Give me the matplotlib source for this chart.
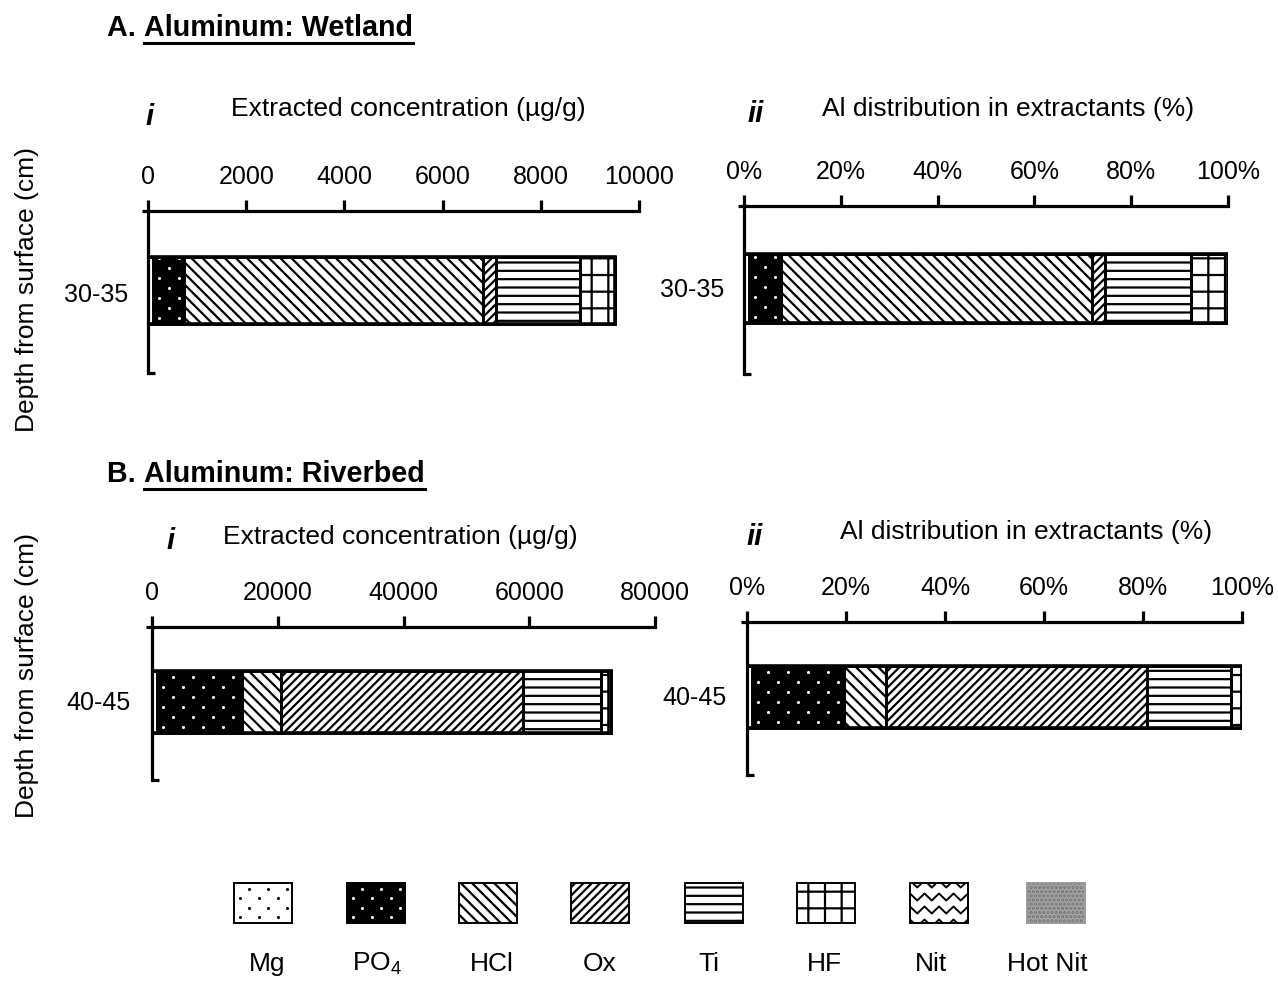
import numpy as np
import matplotlib
matplotlib.use("Agg")
import matplotlib.pyplot as plt
from matplotlib.patches import Rectangle
from matplotlib.lines import Line2D
from matplotlib.ticker import FixedLocator, FuncFormatter
from matplotlib.transforms import IdentityTransform

W, H = 1278, 981

plt.rcParams["font.family"] = ["Liberation Sans", "DejaVu Sans"]
plt.rcParams["mathtext.fontset"] = "custom"
plt.rcParams["mathtext.rm"] = "Liberation Sans"
plt.rcParams["mathtext.it"] = "Liberation Sans:italic"
plt.rcParams["hatch.linewidth"] = 1.6

# ---- data -------------------------------------------------------------
extractants = ["Mg", "PO4", "HCl", "Ox", "Ti", "HF", "Nit", "Hot Nit"]
legend_labels = ["Mg", "PO$_4$", "HCl", "Ox", "Ti", "HF", "Nit", "Hot Nit"]

wetland_depth = "30-35"
wetland_conc = [100, 630, 6100, 260, 1700, 720, 0, 0]          # µg/g

riverbed_depth = "40-45"
riverbed_conc = [800, 13500, 6200, 38500, 12400, 1600, 0, 0]   # µg/g

wetland_ticks = [0, 2000, 4000, 6000, 8000, 10000]
riverbed_ticks = [0, 20000, 40000, 60000, 80000]
percent_ticks = [0, 20, 40, 60, 80, 100]

# ---- fill styles per extractant ------------------------------------------
STYLE = {
    "Mg":      dict(face="white",   hatch=None,      hc="black", dots="black"),
    "PO4":     dict(face="black",   hatch=None,      hc="white", dots="white"),
    "HCl":     dict(face="white",   hatch="\\\\\\",  hc="black"),
    "Ox":      dict(face="white",   hatch="////",    hc="black"),
    "Ti":      dict(face="white",   hatch="--",      hc="black"),
    "HF":      dict(face="white",   hatch="+",       hc="black"),
    "Nit":     dict(face="white",   hatch=None,      hc="black", wave=True),
    "Hot Nit": dict(face="#a4a4a4", hatch="....",    hc="#747474"),
}

fig = plt.figure(figsize=(W / 100, H / 100), dpi=100)
fig.patch.set_facecolor("white")

FS = 19
TICK_FS = 18


def fx(x):
    return x / W


def fy(y):
    return 1 - y / H


def waves(container_ax, patch, period=14.0, amp=4.0, spacing=12.0, lw=1.4):
    """Zigzag hatching clipped to a patch, built in display pixels."""
    bb = patch.get_window_extent()
    ys = np.arange(bb.y0 - spacing, bb.y1 + spacing, spacing)
    xs = np.arange(bb.x0 - period, bb.x1 + period, period / 2)
    for y0 in ys:
        yy = y0 + amp * np.where(np.arange(len(xs)) % 2 == 0, 0.5, -0.5)
        ln = Line2D(xs, yy, transform=IdentityTransform(), color="black",
                    linewidth=lw, zorder=2.5)
        container_ax.add_artist(ln)
        ln.set_clip_path(patch)


def dots(container_ax, patch, color, dx=20.0, dy=10.0, ms=2.2):
    """Staggered dot stipple clipped to a patch, built in display pixels."""
    bb = patch.get_window_extent()
    xs_all, ys_all = [], []
    for i, y in enumerate(np.arange(bb.y0 + dy * 0.6, bb.y1, dy)):
        off = (i % 2) * dx / 2
        for x in np.arange(bb.x0 + dx * 0.3 + off - dx, bb.x1 + dx, dx):
            xs_all.append(x)
            ys_all.append(y)
    ln = Line2D(xs_all, ys_all, transform=IdentityTransform(), linestyle="none",
                marker="o", markersize=ms, markerfacecolor=color,
                markeredgecolor=color, markeredgewidth=0, zorder=2.5)
    container_ax.add_artist(ln)
    ln.set_clip_path(patch)


def decorate(container_ax, patch, st, dot_dx=20.0, dot_dy=10.0,
             wave_kw=None):
    if st.get("dots"):
        dots(container_ax, patch, st["dots"], dx=dot_dx, dy=dot_dy)
    if st.get("wave"):
        waves(container_ax, patch, **(wave_kw or {}))


def panel(rect_px, values, ticks, pct, depth, depth_px):
    l, r, t, b = rect_px
    ax = fig.add_axes([fx(l), fy(b), fx(r - l), (b - t) / H])
    ax.set_xlim(ticks[0], ticks[-1])
    ax.set_ylim(0, 1)

    vals = np.asarray(values, dtype=float)
    if pct:
        vals = vals / vals.sum() * 100.0

    yc, hh = 0.51, 0.41
    left = 0.0
    for name, v in zip(extractants, vals):
        if v <= 0:
            continue
        st = STYLE[name]
        bars = ax.barh(yc, v, left=left, height=hh, color=st["face"],
                       edgecolor=st["hc"], hatch=st["hatch"], linewidth=0,
                       zorder=2)
        decorate(ax, bars.patches[0], st)
        ax.barh(yc, v, left=left, height=hh, fill=False, edgecolor="black",
                linewidth=2.0, zorder=3)
        left += v
    ax.barh(yc, left, left=0, height=hh, fill=False, edgecolor="black",
            linewidth=2.6, zorder=4)

    for s in ("bottom", "right"):
        ax.spines[s].set_visible(False)
    for s in ("top", "left"):
        ax.spines[s].set_linewidth(2.3)
        ax.spines[s].set_zorder(5)

    ax.xaxis.tick_top()
    ax.xaxis.set_major_locator(FixedLocator(ticks))
    if pct:
        ax.xaxis.set_major_formatter(FuncFormatter(lambda v, p: f"{v:.0f}%"))
    else:
        ax.xaxis.set_major_formatter(FuncFormatter(lambda v, p: f"{v:.0f}"))
    ax.tick_params(axis="x", which="major", direction="out", length=8,
                   width=2.3, pad=8, labelsize=TICK_FS)

    ax.yaxis.set_major_locator(FixedLocator([1.0]))
    ax.yaxis.set_minor_locator(FixedLocator([0.0]))
    ax.tick_params(axis="y", which="major", direction="out", length=4,
                   width=2.3, labelleft=False)
    ax.tick_params(axis="y", which="minor", direction="in", length=5,
                   width=2.3, labelleft=False)
    ax.patch.set_alpha(0)

    fig.text(fx(depth_px[0]), fy(depth_px[1]), depth, ha="right",
             va="center", fontsize=TICK_FS)
    return ax


# ---- A: wetland ----------------------------------------------------------
panel((148, 639, 211, 373), wetland_conc, wetland_ticks, False,
      wetland_depth, (128, 295))
panel((744, 1228, 206, 374), wetland_conc, percent_ticks, True,
      wetland_depth, (724, 290))

# ---- B: riverbed ---------------------------------------------------------
panel((152, 655, 627, 780), riverbed_conc, riverbed_ticks, False,
      riverbed_depth, (131, 703))
panel((747, 1242, 622, 775), riverbed_conc, percent_ticks, True,
      riverbed_depth, (727, 698))

# ---- headings, panel titles, axis titles -------------------------------
fig.canvas.draw()
renderer = fig.canvas.get_renderer()


def heading(x, y, letter, text):
    t1 = fig.text(fx(x), fy(y), letter + " ", ha="left", va="center",
                  fontsize=20.7, fontweight="bold")
    bb1 = t1.get_window_extent(renderer)
    t2 = fig.text(bb1.x1 / W, fy(y), text, ha="left", va="center",
                  fontsize=20.7, fontweight="bold")
    bb2 = t2.get_window_extent(renderer)
    yline = bb2.y0 - 1
    fig.add_artist(Line2D([bb2.x0 / W, bb2.x1 / W], [yline / H, yline / H],
                          transform=fig.transFigure, color="black",
                          linewidth=2.2))


heading(107, 28, "A.", "Aluminum: Wetland")
heading(107, 474, "B.", "Aluminum: Riverbed")

conc_title = "Extracted concentration (\u00b5g/g)"
dist_title = "Al distribution in extractants (%)"

fig.text(fx(408), fy(109), conc_title, ha="center", va="center", fontsize=FS)
fig.text(fx(1008), fy(109), dist_title, ha="center", va="center", fontsize=FS)
fig.text(fx(400), fy(537), conc_title, ha="center", va="center", fontsize=FS)
fig.text(fx(1026), fy(532), dist_title, ha="center", va="center", fontsize=FS)

for (x, y, s) in [(150, 117, "i"), (756, 114, "ii"),
                  (171, 541, "i"), (755, 537, "ii")]:
    fig.text(fx(x), fy(y), s, ha="center", va="center", fontsize=21,
             fontweight="bold", style="italic")

for yc in (289, 676):
    fig.text(fx(27), fy(yc), "Depth from surface (cm)", rotation=90,
             ha="center", va="center", fontsize=FS)

# ---- legend --------------------------------------------------------------
lax = fig.add_axes([0, 0, 1, 1])
lax.set_xlim(0, W)
lax.set_ylim(0, H)
lax.axis("off")
lax.patch.set_alpha(0)

box_left = [234, 347, 459, 571, 685, 797, 910, 1027]
label_x = [267, 377, 492, 600, 709, 824, 931, 1047]
box_w, box_top, box_h = 58, 883, 40
for name, lab, x0, lx in zip(extractants, legend_labels, box_left, label_x):
    st = STYLE[name]
    sw = Rectangle((x0, H - box_top - box_h), box_w, box_h,
                   facecolor=st["face"], edgecolor=st["hc"],
                   hatch=st["hatch"], linewidth=0, zorder=2)
    lax.add_patch(sw)
    decorate(lax, sw, st, dot_dx=19.0, dot_dy=9.5,
             wave_kw=dict(period=14.5, amp=7.0, spacing=13.0, lw=1.4))
    edge = "#9a9a9a" if name == "Hot Nit" else "black"
    lax.add_patch(Rectangle((x0, H - box_top - box_h), box_w, box_h,
                            fill=False, edgecolor=edge, linewidth=1.4,
                            zorder=3))
    lax.text(lx, H - 964, lab, ha="center", va="center", fontsize=FS)

fig.savefig("out.png", dpi=100, facecolor="white")
